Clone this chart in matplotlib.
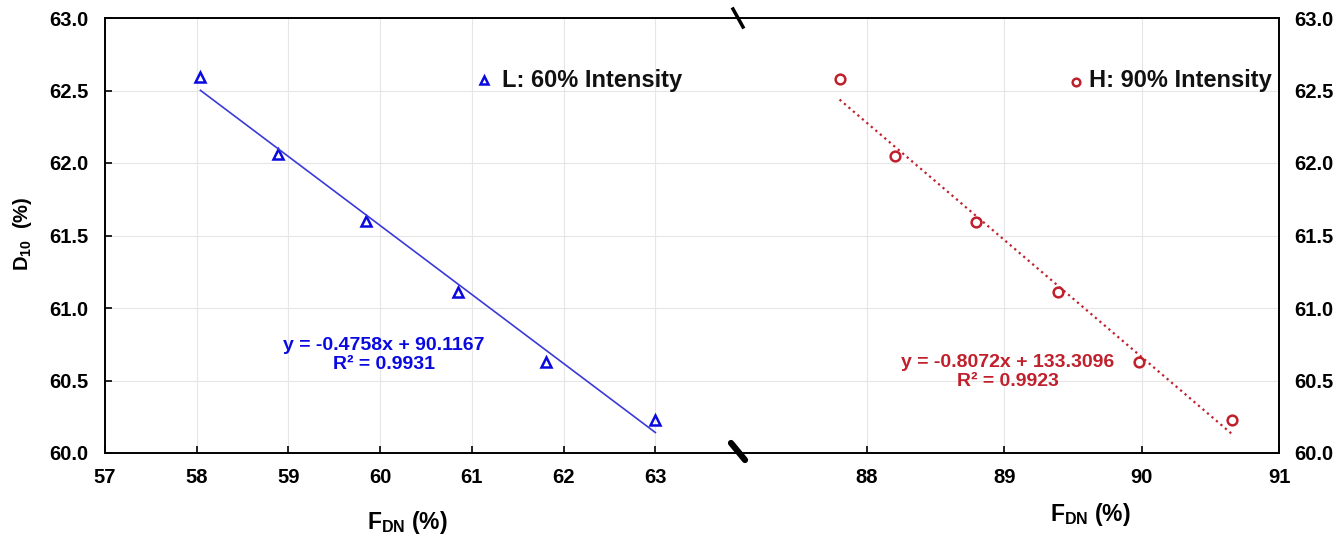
import matplotlib
matplotlib.use("Agg")
import matplotlib.pyplot as plt
from matplotlib.lines import Line2D
import numpy as np

plt.rcParams['font.family'] = ['Liberation Sans', 'DejaVu Sans']
plt.rcParams['mathtext.fontset'] = 'custom'
plt.rcParams['mathtext.rm'] = 'Liberation Sans'
plt.rcParams['mathtext.bf'] = 'Liberation Sans:bold'
plt.rcParams['mathtext.it'] = 'Liberation Sans:italic'

# L: 60% intensity
f_low = [58.04, 58.89, 59.85, 60.85, 61.81, 63.00]
d_low = [62.59, 62.06, 61.60, 61.11, 60.63, 60.23]
fit_low = (-0.4758, 90.1167)
r2_low = 0.9931

# H: 90% intensity
f_high = [87.80, 88.20, 88.79, 89.39, 89.98, 90.66]
d_high = [62.58, 62.05, 61.59, 61.11, 60.63, 60.23]
fit_high = (-0.8072, 133.3096)
r2_high = 0.9923

yticks = [60.0, 60.5, 61.0, 61.5, 62.0, 62.5, 63.0]
xticks_low = [57, 58, 59, 60, 61, 62, 63]
xticks_high = [88, 89, 90, 91]

W, H = 1340, 538
blue = '#0a0ae0'
blue_line = '#3a3ad8'
red = '#c0202c'

fig = plt.figure(figsize=(W / 100, H / 100), dpi=100)

def px(x0, y0, x1, y1):
    return [x0 / W, 1 - y1 / H, (x1 - x0) / W, (y1 - y0) / H]

ax1 = fig.add_axes(px(105, 18, 737, 453))
ax2 = fig.add_axes(px(737, 18, 1279, 453))

for ax in (ax1, ax2):
    ax.set_ylim(60, 63)
    ax.set_yticks(yticks)
    ax.grid(True, color='#e6e6e6', lw=0.8)
    ax.set_axisbelow(True)
    for s in ax.spines.values():
        s.set_linewidth(1.4)
        s.set_color('black')
    ax.tick_params(direction='in', length=5, width=1.2,
                   labelsize=14.5)

ax1.set_xlim(57, 63.89)
ax1.set_xticks(xticks_low)
ax1.spines['right'].set_visible(False)
ax1.tick_params(axis='y', pad=12)
ax1.tick_params(axis='x', pad=11)
ax1.set_yticklabels(['%.1f' % v for v in yticks], fontweight='bold')
ax1.set_xticklabels([str(v) for v in xticks_low], fontweight='bold')

ax2.set_xlim(87.053, 91)
ax2.set_xticks(xticks_high)
ax2.spines['left'].set_visible(False)
ax2.yaxis.tick_right()
ax2.tick_params(axis='y', which='both', left=False, right=False, pad=11)
ax2.tick_params(axis='x', pad=11)
ax2.set_yticklabels(['%.1f' % v for v in yticks], fontweight='bold')
ax2.set_xticklabels([str(v) for v in xticks_high], fontweight='bold')

# data and fits
ax1.plot(f_low, d_low, linestyle='none', marker='^', ms=7, mfc='none',
         mec=blue, mew=1.8)
xl = np.array([min(f_low), max(f_low)])
ax1.plot(xl, fit_low[0] * xl + fit_low[1], color=blue_line, lw=1.2)

ax2.plot(f_high, d_high, linestyle='none', marker='o', ms=7, mfc='none',
         mec=red, mew=1.8)
xh = np.array([min(f_high), max(f_high)])
ax2.plot(xh, fit_high[0] * xh + fit_high[1], color=red, lw=1.6, ls=':')

# equations
fig.text(384 / W, 1 - 355 / H,
         'y = %.4fx + %.4f\nR² = %.4f' % (fit_low[0], fit_low[1], r2_low),
         color=blue, fontsize=14, fontweight='bold', ha='center', va='center',
         linespacing=1.2)
fig.text(1008 / W, 1 - 372 / H,
         'y = %.4fx + %.4f\nR² = %.4f' % (fit_high[0], fit_high[1], r2_high),
         color=red, fontsize=14, fontweight='bold', ha='center', va='center',
         linespacing=1.2)

# legend-like labels
fig.add_artist(Line2D([484 / W], [1 - 80 / H], marker='^', ms=5.5, mfc='none',
                      mec=blue, mew=1.8, transform=fig.transFigure))
fig.text(502 / W, 1 - 81 / H, 'L: 60% Intensity', fontsize=17,
         fontweight='bold', ha='left', va='center', color='#111111')
fig.add_artist(Line2D([1076 / W], [1 - 82 / H], marker='o', ms=5.5, mfc='none',
                      mec=red, mew=1.8, transform=fig.transFigure))
fig.text(1089 / W, 1 - 81 / H, 'H: 90% Intensity', fontsize=17,
         fontweight='bold', ha='left', va='center', color='#111111')

# axis labels
fig.text(23 / W, 1 - 234 / H, r'$\mathbf{D_{10}}$  (%)', rotation=90,
         fontsize=14.5, fontweight='bold', ha='center', va='center')
fig.text(407 / W, 1 - 522 / H, r'$\mathbf{F_{DN}}$ (%)',
         fontsize=16.5, fontweight='bold', ha='center', va='center')
fig.text(1090 / W, 1 - 515 / H, r'$\mathbf{F_{DN}}$ (%)',
         fontsize=16.5, fontweight='bold', ha='center', va='center')

# axis break marks
fig.add_artist(Line2D([733 / W, 743 / W], [1 - 9 / H, 1 - 27 / H],
                      color='black', lw=2.5, transform=fig.transFigure))
fig.add_artist(Line2D([731 / W, 745 / W], [1 - 443 / H, 1 - 460 / H],
                      color='black', lw=4.5, solid_capstyle='round',
                      transform=fig.transFigure))

fig.savefig('out.png', dpi=100)
